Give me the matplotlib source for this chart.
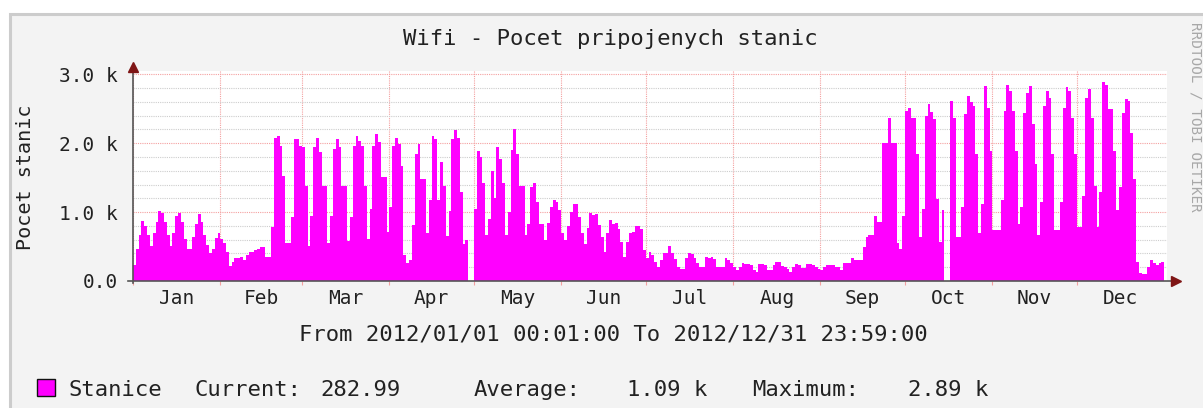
import numpy as np
import pandas as pd
import matplotlib
matplotlib.use('Agg')
import matplotlib.pyplot as plt
from matplotlib.patches import Rectangle

# daily number of connected wifi stations in 2012
jan = [230, 470, 665, 865, 800, 665, 505, 700, 855, 1015, 985, 855, 665, 505, 690, 940,
       990, 855, 615, 470, 470, 640, 822, 975, 855, 673, 520, 400, 470, 625, 690]
feb = [615, 545, 420, 220, 280, 330, 330, 350, 300, 375, 420, 420, 450, 470, 495, 495,
       350, 350, 785, 2080, 2100, 1960, 1530, 545, 545, 930, 2060, 2060, 1960]
mar = [1950, 1385, 505, 940, 1940, 2080, 1875, 1385, 1385, 553, 940, 1915, 2060, 1940,
       1385, 1385, 577, 930, 1960, 2105, 2035, 1960, 1385, 615, 1050, 1960, 2140, 2020,
       1515, 1515, 710]
apr = [1070, 1960, 2080, 1985, 1675, 375, 255, 303, 808, 1840, 1985, 1480, 1480, 700,
       1170, 2105, 2060, 1170, 1720, 1385, 655, 1015, 2060, 2190, 2080, 1290, 530, 590, 0, 0]
may = [1050, 1890, 1795, 1420, 673, 895, 1600, 1200, 1940, 1770, 1420, 673, 1000, 1900,
       2210, 1850, 1385, 1385, 673, 822, 1360, 1420, 1145, 822, 822, 600, 845, 1070, 1180,
       1145, 1025]
jun = [690, 600, 800, 1000, 1120, 1120, 930, 690, 530, 770, 985, 965, 975, 810, 640, 425,
       700, 880, 830, 840, 760, 570, 350, 570, 700, 710, 800, 800, 760, 450]
jul = [330, 420, 375, 280, 205, 300, 400, 400, 505, 400, 313, 205, 180, 180, 330, 400, 385,
       330, 255, 205, 205, 350, 330, 350, 313, 205, 205, 205, 335, 300, 255]
aug = [205, 160, 205, 255, 240, 240, 230, 160, 135, 245, 245, 230, 160, 160, 230, 270, 270,
       215, 205, 180, 125, 205, 245, 230, 190, 190, 245, 250, 235, 200, 170]
sep = [160, 205, 230, 230, 230, 205, 205, 160, 255, 255, 255, 330, 300, 300, 300, 495, 640,
       673, 673, 940, 855, 855, 2000, 2000, 2370, 2010, 2010, 553, 470, 940]
oct = [2470, 2515, 2370, 2370, 1840, 640, 1050, 2395, 2565, 2450, 2350, 1190, 570, 1025,
       0, 0, 2610, 2370, 640, 640, 1070, 2420, 2685, 2600, 2540, 1840, 700, 1120, 2830,
       2515, 1890]
nov = [735, 735, 735, 1170, 2470, 2850, 2755, 2470, 1890, 822, 1070, 2445, 2730, 2830,
       2275, 1700, 665, 1145, 2540, 2755, 2660, 1840, 735, 735, 1145, 2515, 2815, 2755,
       2370, 1850]
dec = [785, 785, 1240, 2660, 2780, 2370, 1385, 785, 1290, 2890, 2850, 2490, 2490, 1890,
       1025, 1360, 2445, 2635, 2610, 2155, 1480, 280, 110, 100, 100, 205, 300, 255, 230,
       265, 283]

months = ['Jan', 'Feb', 'Mar', 'Apr', 'May', 'Jun', 'Jul', 'Aug', 'Sep', 'Oct', 'Nov', 'Dec']
y_ticks = [0, 1000, 2000, 3000]
y_tick_labels = ['0.0', '1.0 k', '2.0 k', '3.0 k']
legend_texts = ['Stanice', 'Current:', '282.99', 'Average:', '1.09 k', 'Maximum:', '2.89 k']
legend_x = [68, 195, 320, 474, 627, 752, 908]

values = np.array(jan + feb + mar + apr + may + jun + jul + aug + sep + oct + nov + dec)
edges = np.arange(len(values) + 1)
month_starts = (pd.date_range('2012-01-01', periods=13, freq='MS')
                - pd.Timestamp('2012-01-01')).days.values
month_mids = (month_starts[:-1] + month_starts[1:]) / 2

W, H = 1203, 408
plt.rcParams['font.family'] = 'DejaVu Sans Mono'
fig = plt.figure(figsize=(W / 100, H / 100), dpi=100, facecolor='white')

# gray page with border (top and left visible)
fig.add_artist(Rectangle((9.5 / W, -0.05), 1.0, (H - 13.5) / H + 0.05,
                         transform=fig.transFigure, facecolor='#F3F3F3',
                         edgecolor='#CCCCCC', lw=2.2, zorder=0))

ax = fig.add_axes([133 / W, (H - 281) / H, 1034 / W, 210 / H])
ax.set_facecolor('white')
ax.stairs(values, edges, fill=True, color='#FF00FF', lw=0, zorder=2)
ax.set_xlim(0, 367)
ax.set_ylim(0, 3048)

red = '#F4A0A0'
gray = '#CDCDCD'
dot = (0, (1, 1))
ax.set_yticks(y_ticks, y_tick_labels)
ax.set_yticks([v for v in range(200, 3000, 200) if v % 1000], minor=True)
ax.set_xticks(month_starts[:-1])
ax.set_xticks(month_mids, months, minor=True)
ax.grid(which='major', color=red, ls=dot, lw=0.8)
ax.grid(which='minor', axis='y', color=gray, ls=dot, lw=0.8)
ax.set_axisbelow(True)
ax.tick_params(axis='x', which='major', length=3, color=red, labelbottom=False)
ax.tick_params(axis='x', which='minor', length=0, pad=5.5, labelsize=14, labelcolor='#222222')
ax.tick_params(axis='y', which='both', length=0, pad=10.8, labelsize=14, labelcolor='#222222')
for s in ax.spines.values():
    s.set_visible(False)

# axis lines with arrow heads
axis_col = '#555555'
ax.plot([0, 0], [-0.01, 1.02], color=axis_col, lw=1.2, transform=ax.transAxes, clip_on=False, zorder=3)
ax.plot([-0.005, 1.006], [0, 0], color=axis_col, lw=1.2, transform=ax.transAxes, clip_on=False, zorder=3)
ax.plot([0], [1.02], marker='^', ms=6.5, color='#7F1515', transform=ax.transAxes, clip_on=False, zorder=4)
ax.plot([1.0085], [0], marker='>', ms=6.5, color='#7F1515', transform=ax.transAxes, clip_on=False, zorder=4)

txt = '#222222'
fig.text(610 / W, 1 - 45 / H, 'Wifi - Pocet pripojenych stanic', ha='center', va='baseline',
         fontsize=16, color=txt)
fig.text(26 / W, 1 - 177 / H, 'Pocet stanic', rotation=90, ha='center', va='center',
         fontsize=14.5, color=txt)
fig.text(613 / W, 1 - 341 / H, 'From 2012/01/01 00:01:00 To 2012/12/31 23:59:00',
         ha='center', va='baseline', fontsize=16, color=txt)
fig.text(1195 / W, 1 - 22 / H, 'RRDTOOL / TOBI OETIKER', rotation=270, ha='center', va='top',
         fontsize=10.3, color='#A8A8A8')

# legend row
fig.add_artist(Rectangle((37 / W, 1 - 396 / H), 18 / W, 17 / H, transform=fig.transFigure,
                         facecolor='#FF00FF', edgecolor='#111111', lw=1))
for label, x in zip(legend_texts, legend_x):
    fig.text(x / W, 1 - 396 / H, label, ha='left', va='baseline', fontsize=16, color=txt)

fig.savefig('out.png', dpi=100, facecolor=fig.get_facecolor())
